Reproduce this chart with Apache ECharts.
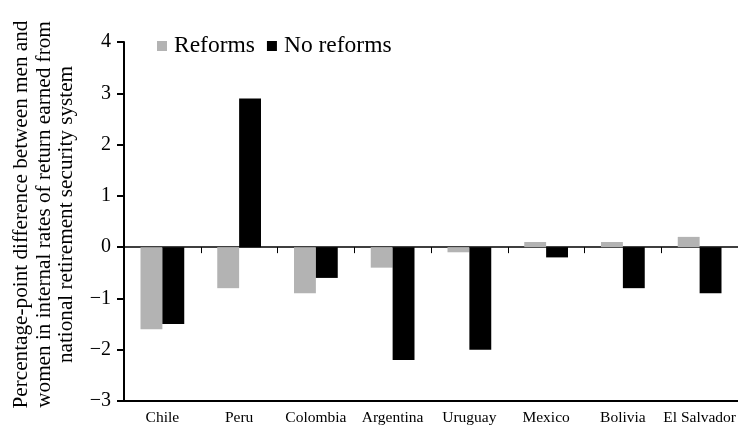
<!DOCTYPE html>
<html><head><meta charset="utf-8">
<script src="https://cdn.jsdelivr.net/npm/echarts@6/dist/echarts.min.js"></script>
<style>html,body{margin:0;padding:0;background:#fff}#c{width:738px;height:426px}</style>
</head><body><div id="c"></div>
<script>
const categories = ['Chile','Peru','Colombia','Argentina','Uruguay','Mexico','Bolivia','El Salvador'];
const reforms = [-1.6, -0.8, -0.9, -0.4, -0.1, 0.1, 0.1, 0.2];
const noReforms = [-1.5, 2.9, -0.6, -2.2, -2.0, -0.2, -0.8, -0.9];
const yTicks = [-3, -2, -1, 0, 1, 2, 3, 4];
const yTitle = 'Percentage-point difference between men and\nwomen in internal rates of return earned from\nnational retirement security system';
const FONT = 'Liberation Serif';
const chart = echarts.init(document.getElementById('c'));
chart.setOption({
  animation: false,
  textStyle: {fontFamily: FONT, color: '#000'},
  grid: {left: 124, right: 0, top: 42, bottom: 25, containLabel: false, outerBoundsMode: 'none'},
  legend: {
    left: 152, top: 29, itemWidth: 10, itemHeight: 10, itemGap: 12, icon: 'rect',
    textStyle: {fontFamily: FONT, fontSize: 23.5, color: '#000', padding: [0, 0, 0, 2]},
    data: ['Reforms', 'No reforms']
  },
  xAxis: [{
    type: 'category', data: categories, position: 'bottom',
    axisLine: {onZero: false, lineStyle: {color: '#000', width: 2}},
    axisTick: {show: false},
    axisLabel: {fontFamily: FONT, fontSize: 15.5, color: '#000', margin: 9, interval: 0}
  }, {
    type: 'category', data: categories, position: 'bottom',
    axisLine: {onZero: true, lineStyle: {color: '#000', width: 1.5}},
    axisTick: {show: true, length: 6, lineStyle: {color: '#000', width: 1}},
    axisLabel: {show: false}
  }],
  yAxis: {
    type: 'value', min: yTicks[0], max: yTicks[yTicks.length - 1], interval: 1,
    name: yTitle, nameLocation: 'middle', nameRotate: 90, nameGap: 46,
    nameTextStyle: {fontFamily: FONT, fontSize: 21.2, color: '#000', lineHeight: 22.5, align: 'center', padding: [0, 0, 0, 14]},
    axisLine: {show: true, lineStyle: {color: '#000', width: 2}},
    axisTick: {show: true, length: 7, lineStyle: {color: '#000', width: 2}},
    splitLine: {show: false},
    axisLabel: {fontFamily: FONT, fontSize: 20, color: '#000', margin: 13,
      formatter: v => String(v).replace('-', '\u2212')}
  },
  series: [{
    name: 'Reforms', type: 'bar', data: reforms, xAxisIndex: 0,
    itemStyle: {color: '#b3b3b3'}, barGap: '0%', barCategoryGap: '43%'
  }, {
    name: 'No reforms', type: 'bar', data: noReforms, xAxisIndex: 0,
    itemStyle: {color: '#000'}, barGap: '0%', barCategoryGap: '43%'
  }]
});
</script></body></html>
